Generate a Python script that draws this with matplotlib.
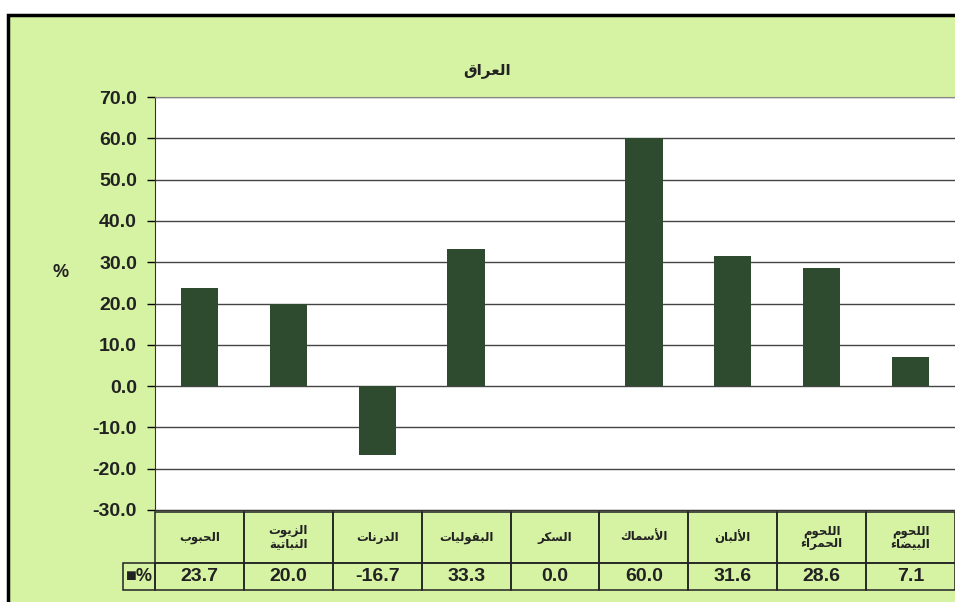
import matplotlib
matplotlib.use('Agg')
import matplotlib.pyplot as plt
from matplotlib.patches import Rectangle
from matplotlib.ticker import FormatStrFormatter

title = 'العراق'
categories = ['الحبوب', 'الزيوت\nالنباتية', 'الدرنات', 'البقوليات', 'السكر',
              'الأسماك', 'الألبان', 'اللحوم\nالحمراء', 'اللحوم\nالبيضاء']
values = [23.7, 20.0, -16.7, 33.3, 0.0, 60.0, 31.6, 28.6, 7.1]
yticks = [-30, -20, -10, 0, 10, 20, 30, 40, 50, 60, 70]

bg = '#d6f2a3'
bar_color = '#2f4b2f'

# matplotlib does no arabic shaping, so pick the presentation forms by hand
# (isolated, final, initial, medial)
FORMS = {
    '\u0621': ('\uFE80', None, None, None),
    '\u0622': ('\uFE81', '\uFE82', None, None),
    '\u0623': ('\uFE83', '\uFE84', None, None),
    '\u0627': ('\uFE8D', '\uFE8E', None, None),
    '\u0628': ('\uFE8F', '\uFE90', '\uFE91', '\uFE92'),
    '\u0629': ('\uFE93', '\uFE94', None, None),
    '\u062A': ('\uFE95', '\uFE96', '\uFE97', '\uFE98'),
    '\u062D': ('\uFEA1', '\uFEA2', '\uFEA3', '\uFEA4'),
    '\u062F': ('\uFEA9', '\uFEAA', None, None),
    '\u0631': ('\uFEAD', '\uFEAE', None, None),
    '\u0632': ('\uFEAF', '\uFEB0', None, None),
    '\u0633': ('\uFEB1', '\uFEB2', '\uFEB3', '\uFEB4'),
    '\u0636': ('\uFEBD', '\uFEBE', '\uFEBF', '\uFEC0'),
    '\u0639': ('\uFEC9', '\uFECA', '\uFECB', '\uFECC'),
    '\u0642': ('\uFED5', '\uFED6', '\uFED7', '\uFED8'),
    '\u0643': ('\uFED9', '\uFEDA', '\uFEDB', '\uFEDC'),
    '\u0644': ('\uFEDD', '\uFEDE', '\uFEDF', '\uFEE0'),
    '\u0645': ('\uFEE1', '\uFEE2', '\uFEE3', '\uFEE4'),
    '\u0646': ('\uFEE5', '\uFEE6', '\uFEE7', '\uFEE8'),
    '\u0647': ('\uFEE9', '\uFEEA', '\uFEEB', '\uFEEC'),
    '\u0648': ('\uFEED', '\uFEEE', None, None),
    '\u064A': ('\uFEF1', '\uFEF2', '\uFEF3', '\uFEF4'),
    'لا': ('\uFEFB', '\uFEFC', None, None),
    'لأ': ('\uFEF7', '\uFEF8', None, None),
}


def shape_line(s):
    tokens = []
    i = 0
    while i < len(s):
        if s[i] == 'ل' and i + 1 < len(s) and s[i + 1] in 'اأ':
            tokens.append(s[i:i + 2])
            i += 2
        else:
            tokens.append(s[i])
            i += 1
    out = []
    for k, t in enumerate(tokens):
        f = FORMS.get(t)
        if f is None:
            out.append(t)
            continue
        prev = FORMS.get(tokens[k - 1]) if k > 0 else None
        nxt = FORMS.get(tokens[k + 1]) if k + 1 < len(tokens) else None
        jp = prev is not None and prev[2] is not None and f[1] is not None
        jn = nxt is not None and f[2] is not None and nxt[1] is not None
        if jp and jn:
            out.append(f[3])
        elif jp:
            out.append(f[1])
        elif jn:
            out.append(f[2])
        else:
            out.append(f[0])
    return ''.join(reversed(out))


def shape(s):
    return '\n'.join(shape_line(l) for l in s.split('\n'))


fam = ['Liberation Sans', 'DejaVu Sans']
plt.rcParams['font.family'] = fam

fig = plt.figure(figsize=(9.55, 6.02), dpi=100)
fig.patch.set_facecolor('white')
fig.patches.append(Rectangle((8 / 955, -0.05), 1.0, 1.05 - 15 / 602, transform=fig.transFigure,
                             facecolor=bg, edgecolor='black', linewidth=2.5, zorder=-5))

ax = fig.add_axes([155 / 955, 1 - 510 / 602, 800 / 955, 413 / 602])
ax.set_zorder(2)
ax.set_facecolor('white')

x = list(range(len(values)))
ax.bar(x, values, width=0.42, color=bar_color, zorder=3)

ax.set_xlim(-0.5, len(values) - 0.5)
ax.set_ylim(-30, 70)
ax.set_yticks(yticks)
ax.yaxis.set_major_formatter(FormatStrFormatter('%.1f'))
ax.set_xticks([])
ax.grid(axis='y', color='#444444', linewidth=1.0, zorder=1)
ax.tick_params(axis='y', direction='out', length=6, width=1, labelsize=14, pad=7)
for lab in ax.get_yticklabels():
    lab.set_fontweight('bold')
    lab.set_color('#222222')
ax.spines['right'].set_visible(False)
ax.spines['top'].set_color('#888888')
ax.spines['left'].set_color('#333333')
ax.spines['bottom'].set_color('#333333')

fig.text(61 / 955, 1 - 273 / 602, '%', fontsize=13, fontweight='bold', ha='center', va='center',
         color='#222222')
fig.text(487 / 955, 1 - 71 / 602, shape(title), fontsize=11, fontweight='bold',
         ha='center', va='center', color='#222222')

labels = [shape(c) for c in categories]
vals_txt = ['%.1f' % v for v in values]
h0 = 51 / 413
h1 = 27 / 413
tab = ax.table(cellText=[labels, vals_txt], rowLabels=['', '■%'], cellLoc='center',
               bbox=[0, -(80 / 413), 1, h0 + h1])
tab.auto_set_font_size(False)
for (r, c), cell in tab.get_celld().items():
    cell.set_facecolor('none')
    cell.set_edgecolor('#222222')
    cell.set_linewidth(1.1)
    cell.set_height(h0 if r == 0 else h1)
    cell.set_width(42 / 800 if c == -1 else 1 / len(values))
    t = cell.get_text()
    t.set_fontweight('bold')
    t.set_color('#222222')
    t.set_fontsize(8.5 if r == 0 else 14)
    if r == 0:
        t.set_linespacing(1.05)
    if c == -1:
        t.set_fontsize(13)
    if r == 0 and c == -1:
        cell.set_visible(False)

fig.savefig('out.png', dpi=100, facecolor=fig.get_facecolor())
